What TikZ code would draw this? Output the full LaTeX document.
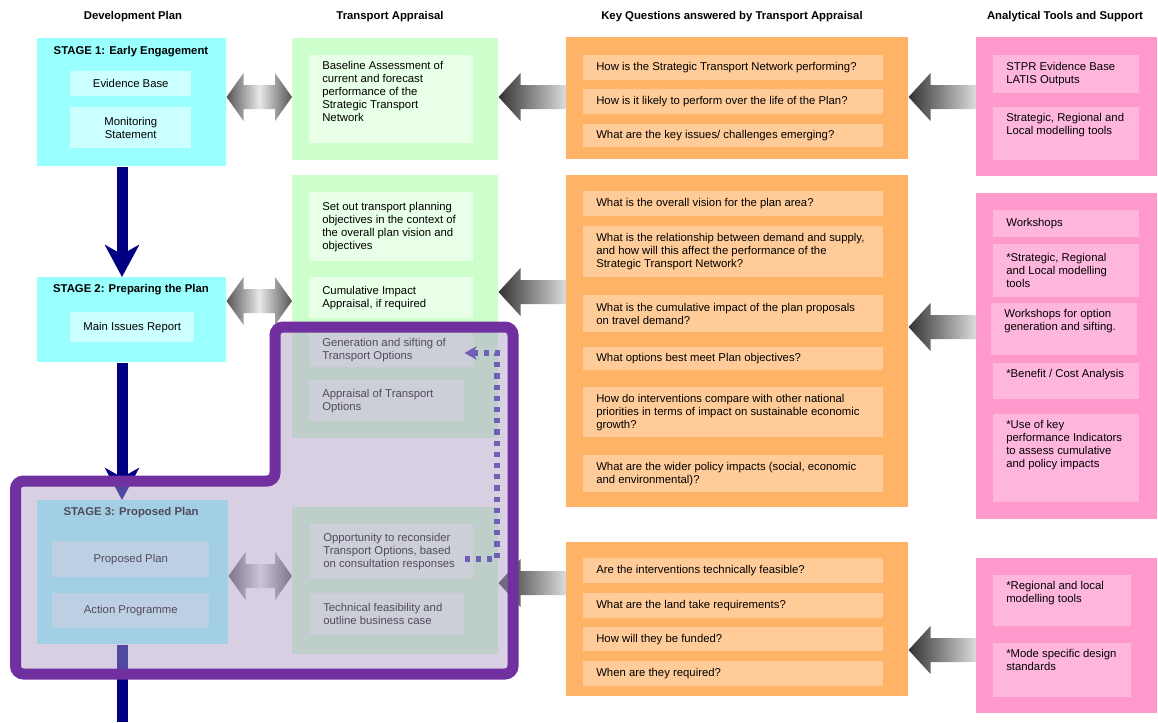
\documentclass[tikz,border=0pt]{standalone}
\usepackage{fontspec}
\setmainfont{Liberation Sans}
\usetikzlibrary{arrows.meta,calc}
\definecolor{cyanO}{HTML}{99FFFF}
\definecolor{cyanI}{HTML}{CCFFFF}
\definecolor{greenO}{HTML}{CCFFCC}
\definecolor{greenI}{HTML}{E8FFE8}
\definecolor{orangeO}{HTML}{FFB366}
\definecolor{orangeI}{HTML}{FFCC99}
\definecolor{pinkO}{HTML}{FF99CC}
\definecolor{pinkI}{HTML}{FFB6DD}
\definecolor{navyL}{HTML}{000080}
\definecolor{purpB}{HTML}{7030A0}
\definecolor{veil}{RGB}{174,155,197}
\definecolor{dotc}{HTML}{6F5FB5}
\definecolor{arrD}{HTML}{333333}
\definecolor{arrL}{HTML}{DCDCDC}
\definecolor{arrM}{HTML}{555555}
\definecolor{arrW}{HTML}{E8E8E8}
\newcommand\bx[6]{\node[#1, anchor=north west, minimum width={(#5-#3)*0.75pt}, minimum height={(#6-#4)*0.75pt}] (#2) at (#3,#4) {};}
\newcommand\tx[7]{\bx{#1}{#2}{#3}{#4}{#5}{#6}\node[txt, anchor=west] (#2t) at ($(#2.west)+(13,0)$) {#7};}
\newcommand\ttx[7]{\bx{#1}{#2}{#3}{#4}{#5}{#6}\node[txt, anchor=north west] (#2t) at ($(#2.north west)+(13,6)$) {#7};}
\newcommand\ctx[7]{\bx{#1}{#2}{#3}{#4}{#5}{#6}\node[txt, align=center] (#2t) at (#2.center) {#7};}
\newcommand\larr[3]{%
 \coordinate (ay) at (0,#3);
 \coordinate (at) at (#1.east |- ay);
 \coordinate (ae) at (#2.west |- ay);
 \shade[left color=arrD, right color=arrL] (at) -- ++(22,-24) -- ++(0,12) -- ($(ae)+(0,-12)$) -- ($(ae)+(0,12)$) -- ($(at)+(22,12)$) -- ++(0,12) -- cycle;}
\newcommand\darr[3]{%
 \coordinate (ay) at (0,#3);
 \coordinate (at) at (#1.east |- ay);
 \coordinate (ae) at (#2.west |- ay);
 \shade[left color=arrM, right color=arrM, middle color=arrW] (at) -- ++(17,-24) -- ++(0,12) -- ($(ae)+(-17,-12)$) -- ++(0,-12) -- (ae) -- ++(-17,24) -- ++(0,-12) -- ($(at)+(17,12)$) -- ++(0,12) -- cycle;}
\begin{document}
\begin{tikzpicture}[x=0.75pt,y=-0.75pt,
 every node/.style={font=\fontsize{8.5}{9.75}\selectfont, inner sep=0pt, text=black},
 txt/.style={align=left},
 hd/.style={font=\fontsize{8.5}{9.75}\selectfont\bfseries},
 cO/.style={fill=cyanO}, cI/.style={fill=cyanI},
 gO/.style={fill=greenO}, gI/.style={fill=greenI},
 oO/.style={fill=orangeO}, oI/.style={fill=orangeI},
 pO/.style={fill=pinkO}, pI/.style={fill=pinkI},
 navyline/.style={draw=navyL, line width=8.25pt, -{Stealth[length=24pt,width=25.5pt,inset=7pt]}},
 navyplain/.style={draw=navyL, line width=8.25pt},
 frame/.style={draw=purpB, line width=8.25pt, rounded corners=6pt},
 dotline/.style={draw=dotc, line width=4pt, dash pattern=on 4pt off 4.4pt, -{Stealth[length=9pt,width=10pt,inset=2.5pt]}}
]
\fill[white] (0,0) rectangle (1158,722);
\useasboundingbox (0,0) rectangle (1158,722);
% headers
\node[hd] (h1) at (133,17) {Development Plan};
\node[hd] (h2) at (390,17) {Transport Appraisal};
\node[hd] (h3) at (732,17) {Key Questions answered by Transport Appraisal};
\node[hd] (h4) at (1065,17) {Analytical Tools and Support};
% column 1
\bx{cO}{s1}{37}{38}{226}{166}
\node[hd] (s1h) at (131,52) {STAGE 1: Early Engagement};
\ctx{cI}{s1a}{70}{71}{191}{96}{Evidence Base}
\ctx{cI}{s1b}{70}{107}{191}{148}{Monitoring\\Statement}
\bx{cO}{s2}{37}{277}{226}{362}
\node[hd] (s2h) at (131,290) {STAGE 2: Preparing the Plan};
\ctx{cI}{s2a}{70}{312}{194}{342}{Main Issues Report}
\bx{cO}{s3}{37}{500}{228}{644}
\node[hd] (s3h) at (131,513) {STAGE 3: Proposed Plan};
\ctx{cI}{s3a}{52}{541}{209}{577}{Proposed Plan}
\ctx{cI}{s3b}{52}{593}{209}{628}{Action Programme}
% column 2
\bx{gO}{g1}{292}{38}{498}{160}
\ttx{gI}{g1a}{309}{55}{473}{143}{Baseline Assessment of\\current and forecast\\performance of the\\Strategic Transport\\Network}
\bx{gO}{g2}{292}{175}{498}{438}
\tx{gI}{g2a}{309}{192}{473}{261}{Set out transport planning\\objectives in the context of\\the overall plan vision and\\objectives}
\tx{gI}{g2b}{309}{277}{473}{318}{Cumulative Impact\\Appraisal, if required}
\tx{gI}{g2c}{309}{333}{473}{367}{Generation and sifting of\\Transport Options}
\tx{gI}{g2d}{309}{380}{464}{421}{Appraisal of Transport\\Options}
\bx{gO}{g3}{292}{507}{498}{654}
\tx{gI}{g3a}{310}{524}{473}{579}{Opportunity to reconsider\\Transport Options, based\\on consultation responses}
\tx{gI}{g3b}{310}{593}{464}{635}{Technical feasibility and\\outline business case}
% column 3
\bx{oO}{o1}{566}{37}{908}{159}
\tx{oI}{o1a}{583}{55}{883}{80}{How is the Strategic Transport Network performing?}
\tx{oI}{o1b}{583}{89}{883}{114}{How is it likely to perform over the life of the Plan?}
\tx{oI}{o1c}{583}{124}{883}{147}{What are the key issues/ challenges emerging?}
\bx{oO}{o2}{566}{175}{908}{507}
\tx{oI}{o2a}{583}{191}{883}{216}{What is the overall vision for the plan area?}
\tx{oI}{o2b}{583}{226}{883}{277}{What is the relationship between demand and supply,\\and how will this affect the performance of the\\Strategic Transport Network?}
\tx{oI}{o2c}{583}{295}{883}{332}{What is the cumulative impact of the plan proposals\\on travel demand?}
\tx{oI}{o2d}{583}{347}{883}{370}{What options best meet Plan objectives?}
\tx{oI}{o2e}{583}{387}{883}{437}{How do interventions compare with other national\\priorities in terms of impact on sustainable economic\\growth?}
\tx{oI}{o2f}{583}{455}{883}{492}{What are the wider policy impacts (social, economic\\and environmental)?}
\bx{oO}{o3}{566}{542}{908}{696}
\tx{oI}{o3a}{583}{558}{883}{583}{Are the interventions technically feasible?}
\tx{oI}{o3b}{583}{593}{883}{618}{What are the land take requirements?}
\tx{oI}{o3c}{583}{627}{883}{651}{How will they be funded?}
\tx{oI}{o3d}{583}{661}{883}{686}{When are they required?}
% column 4
\bx{pO}{p1}{976}{37}{1157}{176}
\tx{pI}{p1a}{993}{55}{1139}{93}{STPR Evidence Base\\LATIS Outputs}
\ttx{pI}{p1b}{993}{107}{1139}{160}{Strategic, Regional and\\Local modelling tools}
\bx{pO}{p2}{976}{193}{1157}{519}
\tx{pI}{p2a}{993}{210}{1139}{237}{Workshops}
\tx{pI}{p2b}{993}{244}{1139}{297}{*Strategic, Regional\\and Local modelling\\tools}
\ttx{pI}{p2c}{991}{303}{1137}{355}{Workshops for option\\generation and sifting.}
\ttx{pI}{p2d}{993}{363}{1139}{399}{*Benefit / Cost Analysis}
\ttx{pI}{p2e}{993}{414}{1139}{502}{*Use of key\\performance Indicators\\to assess cumulative\\and policy impacts}
\bx{pO}{p3}{976}{558}{1157}{713}
\ttx{pI}{p3a}{993}{575}{1131}{626}{*Regional and local\\modelling tools}
\ttx{pI}{p3b}{993}{643}{1131}{697}{*Mode specific design\\standards}
% block arrows
\darr{s1}{g1}{97}
\darr{s2}{g2}{301}
\darr{s3}{g3}{576}
\larr{g1}{o1}{97}
\larr{g2}{o2}{292}
\larr{g3}{o3}{583}
\larr{o1}{p1}{97}
\larr{o2}{p2}{327}
\larr{o3}{p3}{650}
% navy flow
\coordinate (nx) at (122,0);
\coordinate (nb) at (122,722);
\draw[navyline] (s1.south -| nx) -- (s2.north -| nx);
\draw[navyline] (s2.south -| nx) -- (s3.north -| nx);
\draw[navyplain] (s3.south -| nx) -- (nb);
% overlay
\fill[veil, fill opacity=0.47, rounded corners=6pt] (275,327) -- (513,327) -- (513,674) -- (15.5,674) -- (15.5,481) -- (275,481) -- cycle;
\draw[frame] (275,327) -- (513,327) -- (513,674) -- (15.5,674) -- (15.5,481) -- (275,481) -- cycle;
% dotted feedback
\coordinate (d1) at (497,559);
\coordinate (d2) at (497,353);
\coordinate (ds) at ($(g3a.east |- d1)+(-9,0)$);
\coordinate (de) at ($(g2c.east |- d2)+(-9,0)$);
\draw[dotline] (ds) -- (d1) -- (d2) -- (de);
\end{tikzpicture}
\end{document}
